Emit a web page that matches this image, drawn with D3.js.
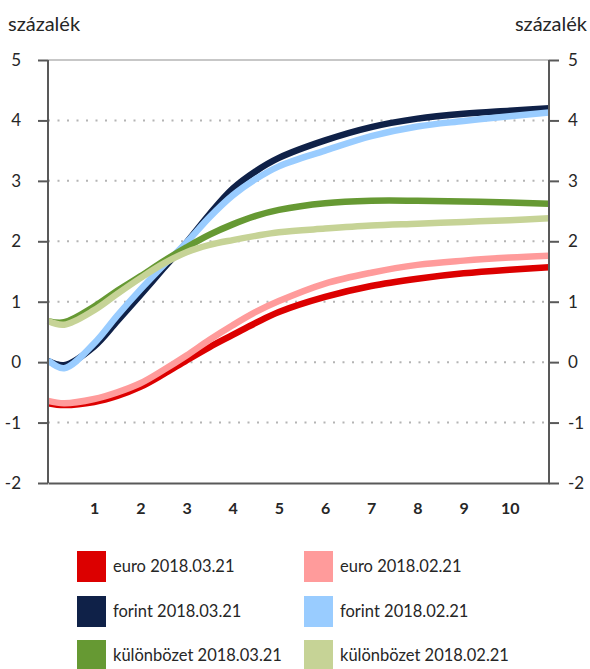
<!DOCTYPE html>
<html>
<head>
<meta charset="utf-8">
<script src="https://cdn.jsdelivr.net/npm/d3@7"></script>
<style>
  html, body { margin: 0; padding: 0; background: #fff; }
  svg { display: block; }
  text { font-family: Lato, "Open Sans", sans-serif; fill: #262626; }
</style>
</head>
<body>
<svg id="chart" width="590" height="669"></svg>
<script>
// ---- data ----
const maturities = [0, 0.35, 1, 1.5, 2, 2.5, 3, 3.5, 4, 4.5, 5, 6, 7, 8, 9, 10, 10.85];
const euro0321      = [-0.68, -0.71, -0.66, -0.56, -0.41, -0.20, 0.03, 0.25, 0.45, 0.65, 0.83, 1.08, 1.26, 1.38, 1.47, 1.53, 1.57];
const euro0221      = [-0.64, -0.68, -0.61, -0.50, -0.35, -0.13, 0.11, 0.37, 0.61, 0.83, 1.01, 1.30, 1.48, 1.61, 1.68, 1.73, 1.76];
const forint0321    = [0.02, -0.05, 0.26, 0.68, 1.11, 1.55, 1.98, 2.45, 2.87, 3.16, 3.38, 3.67, 3.89, 4.03, 4.11, 4.16, 4.20];
const forint0221    = [0.03, -0.10, 0.31, 0.77, 1.20, 1.60, 1.98, 2.40, 2.76, 3.03, 3.24, 3.50, 3.74, 3.90, 3.99, 4.07, 4.13];
const kulonb0321    = [0.68, 0.66, 0.92, 1.18, 1.42, 1.67, 1.90, 2.11, 2.28, 2.42, 2.52, 2.63, 2.67, 2.67, 2.66, 2.64, 2.62];
const kulonb0221    = [0.68, 0.62, 0.86, 1.13, 1.39, 1.63, 1.82, 1.94, 2.02, 2.09, 2.15, 2.21, 2.26, 2.29, 2.32, 2.35, 2.38];
const seriesNames   = ["euro 2018.03.21", "forint 2018.03.21", "különbözet 2018.03.21",
                       "euro 2018.02.21", "forint 2018.02.21", "különbözet 2018.02.21"];
const seriesColors  = ["#dc0000", "#0f2148", "#669933", "#ff9b9b", "#99ccff", "#c6d396"];
const xTickValues   = [1, 2, 3, 4, 5, 6, 7, 8, 9, 10];
const yTickValues   = [-2, -1, 0, 1, 2, 3, 4, 5];
const unitLabel     = "százalék";

const seriesValues = [euro0321, forint0321, kulonb0321, euro0221, forint0221, kulonb0221];

// ---- layout ----
const svg = d3.select("#chart");
const x = d3.scaleLinear().domain([0, 10.85]).range([48, 549]);
const y = d3.scaleLinear().domain([-2, 5]).range([483, 60]);

// gridlines
const grid = svg.append("g");
grid.selectAll("line.g").data(yTickValues.filter(v => v > -2 && v < 5)).join("line")
  .attr("x1", x(0)).attr("x2", x(10.85))
  .attr("y1", d => y(d)).attr("y2", d => y(d))
  .attr("stroke", "#b4b4b4").attr("stroke-width", 2)
  .attr("stroke-dasharray", "2,7.5");
grid.append("line")
  .attr("x1", x(0)).attr("x2", x(10.85))
  .attr("y1", y(5)).attr("y2", y(5))
  .attr("stroke", "#b4b4b4").attr("stroke-width", 1.5);

// lines
const line = d3.line()
  .x((d, i) => x(maturities[i]))
  .y(d => y(d))
  .curve(d3.curveCatmullRom.alpha(0.5));

const drawOrder = [0, 3, 1, 4, 2, 5];
svg.append("g").selectAll("path").data(drawOrder).join("path")
  .attr("d", i => line(seriesValues[i]))
  .attr("fill", "none")
  .attr("stroke", i => seriesColors[i])
  .attr("stroke-width", 6.5)
  .attr("stroke-linecap", "butt");

// axes
const axisColor = "#595959";
const left = svg.append("g").attr("transform", `translate(${x(0)},0)`)
  .call(d3.axisLeft(y).tickValues(yTickValues).tickSize(10).tickPadding(17).tickFormat(d3.format("d")));
const right = svg.append("g").attr("transform", `translate(${x(10.85)},0)`)
  .call(d3.axisRight(y).tickValues(yTickValues).tickSize(10).tickPadding(9).tickFormat(d3.format("d")));
[left, right].forEach(g => {
  g.select(".domain").attr("stroke", axisColor).attr("stroke-width", 2)
    .attr("d", `M0,${y(5)}V${y(-2)}`);
  g.selectAll(".tick line").attr("stroke", axisColor).attr("stroke-width", 2);
  g.selectAll(".tick text").style("font-size", "17px").style("font-family", "Lato, sans-serif").attr("fill", "#262626");
});
left.selectAll(".tick text").text(d => d < 0 ? "-" + Math.abs(d) : d);
right.selectAll(".tick text").text(d => d < 0 ? "-" + Math.abs(d) : d);

const bottom = svg.append("g").attr("transform", `translate(0,${y(-2)})`)
  .call(d3.axisBottom(x).tickValues(xTickValues).tickSize(0).tickPadding(20).tickFormat(d3.format("d")));
bottom.select(".domain").attr("stroke", axisColor).attr("stroke-width", 2);
bottom.selectAll(".tick text").style("font-size", "16px").style("font-weight", "bold")
  .style("font-family", "Lato, sans-serif").attr("fill", "#333");

// unit labels
svg.append("text").attr("x", 8).attr("y", 31).text(unitLabel)
  .style("font-size", "20px");
svg.append("text").attr("x", 587).attr("y", 31).attr("text-anchor", "end").text(unitLabel)
  .style("font-size", "20px");

// legend
const legend = svg.append("g");
const legendItems = seriesNames.map((name, i) => ({
  name, color: seriesColors[i], col: i < 3 ? 0 : 1, row: i % 3
}));
const colX = [77, 304];
const rowY = [551, 596, 640];
const item = legend.selectAll("g").data(legendItems).join("g")
  .attr("transform", d => `translate(${colX[d.col]},${rowY[d.row]})`);
item.append("rect").attr("width", 29).attr("height", 31).attr("fill", d => d.color);
item.append("text").attr("x", 36).attr("y", 21).text(d => d.name)
  .style("font-size", "16.5px");
</script>
</body>
</html>
